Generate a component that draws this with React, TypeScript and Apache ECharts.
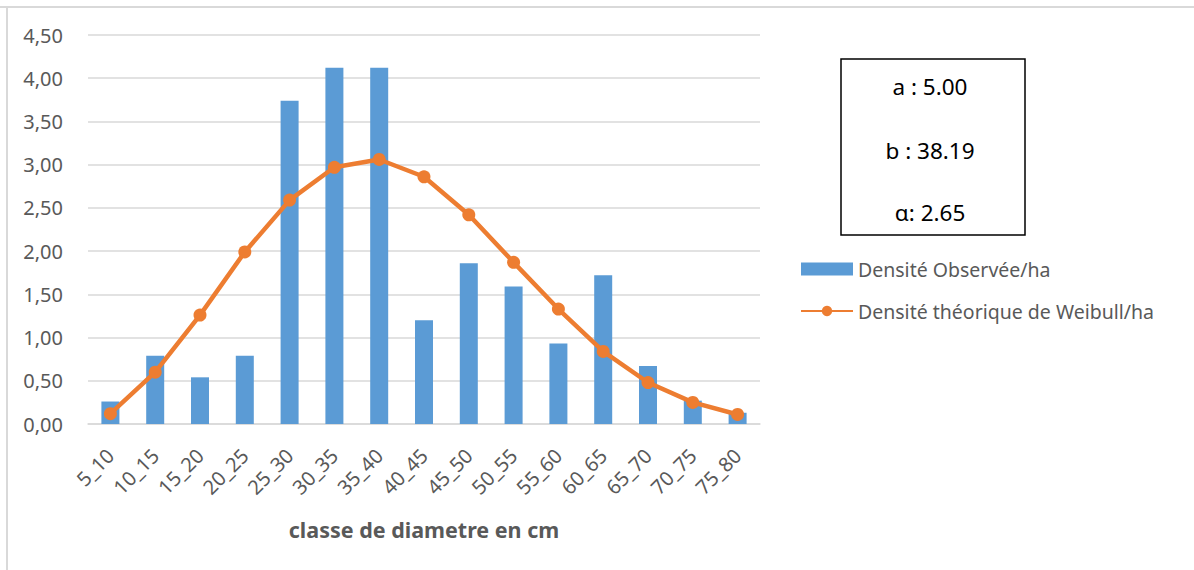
import React, { useEffect, useRef } from "react";
import * as echarts from "echarts";

const categories = ["5_10", "10_15", "15_20", "20_25", "25_30", "30_35", "35_40", "40_45", "45_50", "50_55", "55_60", "60_65", "65_70", "70_75", "75_80"];
const observed = [0.26, 0.79, 0.54, 0.79, 3.74, 4.12, 4.12, 1.2, 1.86, 1.59, 0.93, 1.72, 0.67, 0.27, 0.13];
const weibull = [0.12, 0.6, 1.26, 1.99, 2.59, 2.97, 3.06, 2.86, 2.42, 1.87, 1.33, 0.84, 0.48, 0.25, 0.11];
const paramLines = ["a : 5.00", "b : 38.19", "α: 2.65"];
const seriesNames = ["Densité Observée/ha", "Densité théorique de Weibull/ha"];
const xTitle = "classe de diametre en cm";

const FONT = "'Noto Sans', 'Open Sans', sans-serif";
const GRAY = "#595959";

export default function App() {
  const ref = useRef<HTMLDivElement>(null);
  useEffect(() => {
    if (!ref.current) return;
    const chart = echarts.init(ref.current, undefined, { renderer: "svg" });
    const boxTexts = paramLines.map((t, i) => ({
      type: "text",
      x: 930,
      y: [86, 150, 212][i],
      style: {
        text: t,
        fill: "#000",
        font: `22.5px ${FONT}`,
        textAlign: "center",
        textVerticalAlign: "middle",
      },
    }));
    chart.setOption({
      animation: false,
      backgroundColor: "#fff",
      textStyle: { fontFamily: FONT },
      grid: { left: 88, right: 434, top: 35, bottom: 146 },
      legend: {
        orient: "vertical",
        left: 795,
        top: 254,
        itemWidth: 52,
        itemHeight: 13,
        itemGap: 22,
        textStyle: { color: GRAY, fontSize: 19.5, fontFamily: FONT, lineHeight: 20 },
        data: [
          { name: seriesNames[0], icon: "rect" },
          { name: seriesNames[1] },
        ],
      },
      xAxis: {
        type: "category",
        data: categories,
        name: xTitle,
        nameLocation: "middle",
        nameGap: 94,
        nameTextStyle: { color: GRAY, fontSize: 21.5, fontWeight: "bold", fontFamily: FONT },
        axisLine: { lineStyle: { color: "#D9D9D9", width: 1.5 } },
        axisTick: { length: 8, lineStyle: { color: "#D9D9D9", width: 1.5 } },
        axisLabel: { rotate: 45, color: GRAY, fontSize: 20, margin: 28, fontFamily: FONT },
      },
      yAxis: {
        type: "value",
        min: 0,
        max: 4.5,
        interval: 0.5,
        axisLine: { show: false },
        axisTick: { show: false },
        splitLine: { lineStyle: { color: "#D9D9D9", width: 1.5 } },
        axisLabel: {
          color: GRAY,
          fontSize: 20,
          margin: 25,
          fontFamily: FONT,
          formatter: (v: number) => v.toFixed(2).replace(".", ","),
        },
      },
      series: [
        {
          name: seriesNames[0],
          type: "bar",
          data: observed,
          barWidth: 18,
          itemStyle: { color: "#5B9BD5" },
          z: 2,
        },
        {
          name: seriesNames[1],
          type: "line",
          data: weibull,
          symbol: "circle",
          symbolSize: 13,
          lineStyle: { color: "#ED7D31", width: 4.5 },
          itemStyle: { color: "#ED7D31" },
          z: 3,
        },
      ],
      graphic: [
        { type: "line", shape: { x1: 0, y1: 7, x2: 1194, y2: 7 }, style: { stroke: "#D9D9D9", lineWidth: 2 } },
        { type: "line", shape: { x1: 7, y1: 7, x2: 7, y2: 570 }, style: { stroke: "#D9D9D9", lineWidth: 2 } },
        {
          type: "rect",
          shape: { x: 841, y: 59, width: 184, height: 176 },
          style: { fill: "none", stroke: "#000", lineWidth: 1.5 },
        },
        ...boxTexts,
      ],
    });
    return () => chart.dispose();
  }, []);
  return (
    <div
      ref={ref}
      style={{ position: "absolute", left: 0, top: 0, width: 1194, height: 570 }}
    />
  );
}
